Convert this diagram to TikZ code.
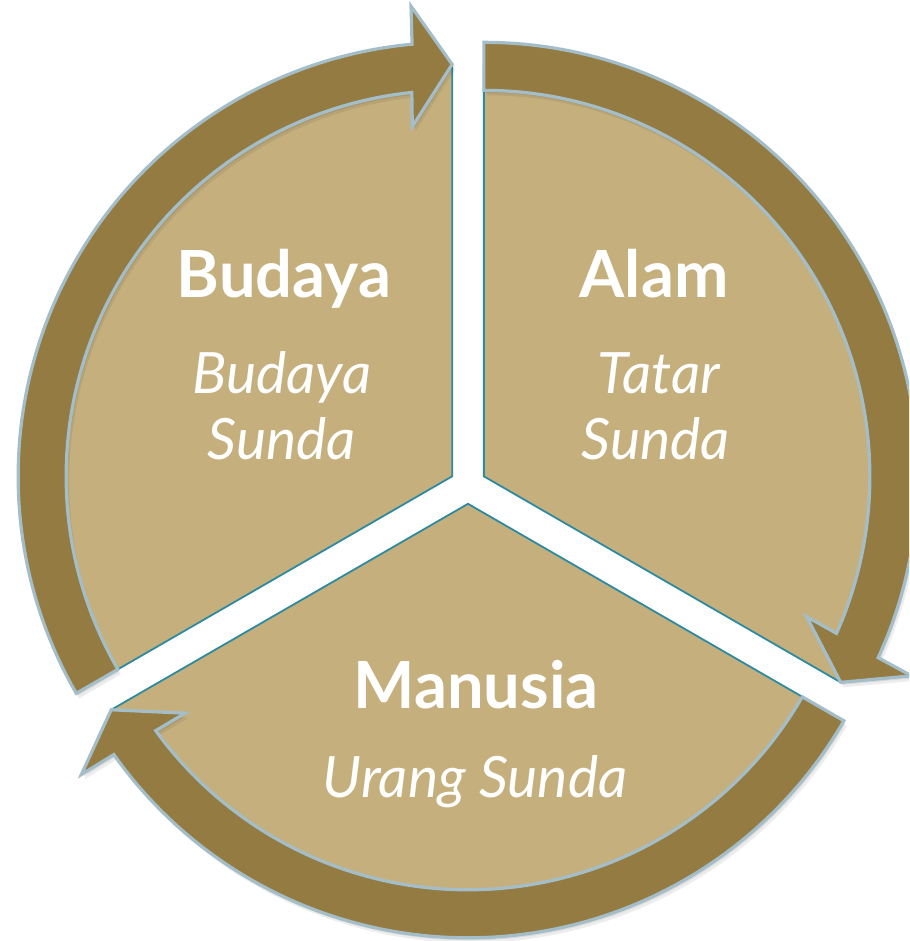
\documentclass[tikz,border=0pt]{standalone}
\usepackage{fontspec}
\setmainfont{Lato}
\definecolor{bandfill}{RGB}{148,123,65}
\definecolor{wedgefill}{RGB}{197,176,125}
\definecolor{bandline}{RGB}{163,190,201}
\definecolor{wedgeline}{RGB}{46,138,160}
\tikzset{
  wedge/.style={fill=wedgefill, draw=wedgeline, line width=1.8pt, line join=miter},
  band/.style={fill=bandfill, draw=bandline, line width=3.2pt, line join=miter},
  bandshadow/.style={fill=black, opacity=0.07},
  bandpath/.style={insert path={(#1:434) arc[start angle=#1,end angle={#1-114.7},radius=434]
     -- ({#1-115}:472) -- ({#1-120}:412) -- ({#1-113.5}:352) -- ({#1-114}:386)
     arc[start angle={#1-114},end angle=#1,radius=386] -- cycle}},
  wedgepath/.style={insert path={(0,0) -- ({#1-120}:410) arc[start angle={#1-120},end angle=#1,radius=410] -- cycle}},
  title/.style={text=white, font=\fontsize{65}{78}\selectfont\bfseries, anchor=base, inner sep=0pt},
  sub/.style={text=white, font=\fontsize{57}{68}\selectfont\itshape, anchor=base, inner sep=0pt},
}
\begin{document}
\begin{tikzpicture}[x=1pt,y=1pt]
\useasboundingbox (0,0) rectangle (909,941);
\clip (0,0) rectangle (909,941);
\fill[white] (0,0) rectangle (909,941);
% wedges
\begin{scope}[shift={(452.15,464.65)}]
  \path[wedge, wedgepath=210];
\end{scope}
\begin{scope}[shift={(483.85,464.65)}]
  \path[wedge, wedgepath=90];
\end{scope}
\begin{scope}[shift={(468,437.2)}]
  \path[wedge, wedgepath=330];
\end{scope}
% curved arrows
\begin{scope}[shift={(452.15,464.65)}]
  \path[bandshadow, shift={(1.5,-2.5)}, bandpath=210];
  \path[bandshadow, shift={(3,-5)}, bandpath=210];
  \path[band, bandpath=210];
\end{scope}
\begin{scope}[shift={(483.85,464.65)}]
  \path[bandshadow, shift={(1.5,-2.5)}, bandpath=90];
  \path[bandshadow, shift={(3,-5)}, bandpath=90];
  \path[band, bandpath=90];
\end{scope}
\begin{scope}[shift={(468,437.2)}]
  \path[bandshadow, shift={(1.5,-2.5)}, bandpath=330];
  \path[bandshadow, shift={(3,-5)}, bandpath=330];
  \path[band, bandpath=330];
\end{scope}
% texts
\node[title] (budaya) at (284,643) {Budaya};
\node[sub] (budayaA) at (282,547) {Budaya};
\node[sub] (budayaB) at (282,481) {Sunda};
\node[title] (alam) at (654,643) {Alam};
\node[sub] (alamA) at (659,547) {Tatar};
\node[sub] (alamB) at (656,481) {Sunda};
\node[title] (manusia) at (476,232) {Manusia};
\node[sub] (manusiaA) at (475,143) {Urang Sunda};
\end{tikzpicture}
\end{document}
